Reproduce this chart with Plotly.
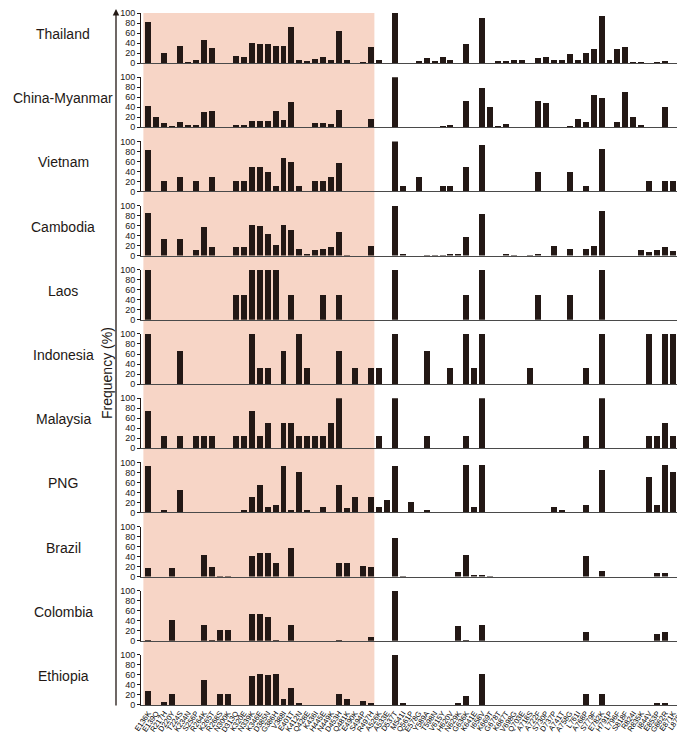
import plotly.graph_objects as go
from plotly.subplots import make_subplots

categories = [
    "E136K", "E139Q", "R217H", "D220Y", "T224S", "K234N", "S256P", "R264K", "K265T", "R268S",
    "N300K", "D313Q", "K320E", "N339K", "K346E", "D385N", "G386H", "V388I", "E401T", "K412N",
    "Q428E", "K436I", "H445E", "N449K", "D453H", "Q481K", "E490K", "S494P", "R497H", "A526K",
    "A533E", "D537T", "M541I", "Q561P", "E578G", "Y589A", "T598N", "V615Y", "H620V", "N629K",
    "G636K", "K641E", "I658V", "K669T", "G678T", "K687T", "V698G", "Q703E", "A718S", "A722F",
    "S730P", "D737P", "A741T", "A758G", "L761I", "A768P", "S779F", "E782K", "H791P", "L796F",
    "S818F", "R824I", "R835K", "I844V", "E853P", "G862R", "E871K", "L875F",
]

countries = ["Thailand", "China-Myanmar", "Vietnam", "Cambodia", "Laos", "Indonesia",
             "Malaysia", "PNG", "Brazil", "Colombia", "Ethiopia"]

thailand = [
    83, 0, 21, 0, 35, 3, 7, 46, 31, 0,
    0, 15, 12, 41, 38, 39, 35, 34, 73, 7,
    4, 8, 12, 6, 64, 6, 0, 2, 32, 6,
    0, 100, 0, 0, 5, 10, 5, 12, 7, 0,
    39, 0, 90, 0, 4, 5, 6, 6, 0, 11,
    12, 6, 6, 19, 7, 21, 28, 95, 7, 28,
    32, 2, 2, 0, 3, 4, 0, 1]

china_myanmar = [
    42, 20, 9, 3, 10, 5, 5, 31, 33, 0,
    0, 5, 4, 13, 13, 13, 33, 15, 51, 0,
    0, 9, 9, 6, 35, 0, 0, 0, 17, 0,
    0, 100, 0, 0, 0, 0, 0, 3, 5, 0,
    52, 0, 78, 41, 3, 7, 0, 0, 0, 52,
    49, 0, 0, 3, 17, 10, 64, 59, 0, 10,
    71, 20, 5, 0, 0, 41, 0, 0]

vietnam = [
    83, 0, 20, 0, 28, 0, 20, 0, 28, 0,
    0, 20, 20, 48, 48, 38, 10, 66, 58, 10,
    0, 20, 20, 28, 56, 0, 0, 0, 0, 0,
    0, 100, 10, 0, 28, 0, 0, 10, 10, 0,
    48, 0, 92, 0, 0, 0, 0, 0, 0, 38,
    0, 0, 0, 38, 0, 10, 0, 85, 0, 0,
    0, 0, 0, 20, 0, 20, 20, 20]

cambodia = [
    87, 0, 35, 0, 35, 0, 12, 58, 18, 0,
    0, 18, 18, 63, 60, 45, 22, 63, 52, 15,
    5, 12, 15, 18, 48, 3, 0, 0, 20, 0,
    0, 100, 5, 0, 0, 3, 3, 3, 5, 5,
    38, 0, 85, 0, 0, 5, 3, 0, 3, 5,
    0, 20, 0, 15, 0, 15, 20, 90, 0, 0,
    0, 0, 12, 8, 12, 18, 10, 18]

laos = [
    100, 0, 0, 0, 0, 0, 0, 0, 0, 0,
    0, 50, 50, 100, 100, 100, 100, 0, 50, 0,
    0, 0, 50, 0, 50, 0, 0, 0, 0, 0,
    0, 100, 0, 0, 0, 0, 0, 0, 0, 0,
    50, 0, 100, 0, 0, 0, 0, 0, 0, 50,
    0, 0, 0, 50, 0, 0, 0, 100, 0, 0,
    0, 0, 0, 0, 0, 0, 0, 0]

indonesia = [
    100, 0, 0, 0, 67, 0, 0, 0, 0, 0,
    0, 0, 0, 100, 33, 33, 0, 67, 0, 100,
    33, 0, 0, 0, 67, 0, 33, 0, 33, 33,
    0, 100, 0, 0, 0, 67, 0, 0, 33, 0,
    100, 33, 100, 0, 0, 0, 0, 0, 33, 0,
    0, 0, 0, 0, 0, 33, 0, 100, 0, 0,
    0, 0, 0, 100, 0, 100, 100, 100]

malaysia = [
    75, 0, 25, 0, 25, 0, 25, 25, 25, 0,
    0, 25, 25, 75, 25, 50, 0, 50, 50, 25,
    25, 25, 25, 50, 100, 0, 0, 0, 0, 25,
    0, 100, 0, 0, 0, 25, 0, 0, 0, 0,
    25, 0, 100, 0, 0, 0, 0, 0, 0, 0,
    0, 0, 0, 0, 0, 25, 0, 100, 0, 0,
    0, 0, 0, 25, 25, 50, 25, 25]

png = [
    92, 0, 5, 0, 45, 0, 0, 0, 0, 0,
    0, 0, 5, 30, 55, 10, 15, 92, 5, 80,
    5, 0, 10, 0, 55, 8, 30, 0, 30, 10,
    25, 92, 0, 20, 0, 5, 0, 0, 0, 0,
    95, 10, 95, 0, 0, 0, 0, 0, 0, 0,
    0, 10, 5, 0, 0, 15, 0, 85, 0, 0,
    0, 0, 0, 70, 15, 95, 80, 95]

brazil = [
    18, 0, 0, 18, 0, 0, 0, 45, 20, 3,
    3, 0, 0, 42, 48, 48, 28, 0, 58, 0,
    0, 0, 0, 0, 28, 28, 0, 22, 20, 0,
    0, 78, 3, 0, 0, 0, 0, 0, 0, 10,
    45, 5, 5, 3, 0, 0, 0, 0, 0, 0,
    0, 0, 0, 0, 0, 42, 0, 12, 0, 0,
    0, 0, 0, 0, 8, 8, 0, 0]

colombia = [
    3, 0, 0, 43, 0, 0, 0, 33, 3, 22,
    22, 0, 0, 55, 55, 48, 3, 0, 32, 0,
    0, 0, 0, 0, 3, 0, 0, 0, 8, 0,
    0, 100, 0, 0, 0, 0, 0, 0, 0, 30,
    3, 0, 32, 0, 0, 0, 0, 0, 0, 0,
    0, 0, 0, 0, 0, 18, 0, 0, 0, 0,
    0, 0, 0, 0, 15, 18, 0, 0]

ethiopia = [
    28, 0, 6, 22, 0, 0, 0, 50, 0, 22,
    22, 0, 0, 58, 62, 60, 62, 12, 35, 5,
    0, 0, 0, 0, 22, 12, 0, 8, 5, 0,
    0, 100, 5, 0, 0, 0, 0, 0, 0, 5,
    18, 0, 62, 0, 0, 0, 0, 0, 0, 0,
    0, 0, 0, 0, 0, 22, 0, 22, 0, 0,
    0, 0, 0, 0, 5, 5, 0, 5]

series = [thailand, china_myanmar, vietnam, cambodia, laos, indonesia,
          malaysia, png, brazil, colombia, ethiopia]

y_ticks = [0, 20, 40, 60, 80, 100]
shaded_first, shaded_last = 0, 28

INK = "#231815"
FONT = "Liberation Sans, Arial, sans-serif"
n = len(countries)

fig = make_subplots(rows=n, cols=1, vertical_spacing=0.0205)
xs = list(range(len(categories)))
for i, vals in enumerate(series):
    fig.add_trace(go.Bar(x=xs, y=vals, marker=dict(color=INK, line=dict(width=0)),
                         width=0.75, showlegend=False, hoverinfo="x+y"),
                  row=i + 1, col=1)

xr = [-0.92, len(categories) + 0.5]
for i in range(n):
    fig.update_xaxes(row=i + 1, col=1, range=xr, showline=True, linecolor="#4a4a4a",
                     linewidth=1, showgrid=False, zeroline=False, ticks="",
                     automargin=False,
                     tickvals=xs, ticktext=categories, showticklabels=(i == n - 1),
                     tickangle=-55, tickfont=dict(size=7.5, color="#000000", family=FONT))
    fig.update_yaxes(row=i + 1, col=1, range=[0, 100], tickvals=y_ticks,
                     ticks="outside", ticklen=3, tickwidth=1, tickcolor=INK,
                     automargin=False,
                     showline=True, linecolor=INK, linewidth=1, showgrid=False,
                     zeroline=False, tickfont=dict(size=9, color=INK, family=FONT))

fig.add_shape(type="rect", xref="x", yref="paper",
              x0=shaded_first - 0.62, x1=shaded_last + 0.43, y0=0, y1=1,
              fillcolor="#F7D5C6", line=dict(width=0), layer="below")

W, H = 685, 736
ML, MR, MT, MB = 133, 0, 5, 39
pw, ph = W - ML - MR, H - MT - MB


def px_to_paper_x(px):
    return (px - ML) / pw


def px_to_paper_y(py):
    return 1 - (py - MT) / ph


for i, name in enumerate(countries):
    dom = fig.layout[f"yaxis{'' if i == 0 else i + 1}"].domain
    fig.add_annotation(text=name, xref="paper", yref="paper",
                       x=px_to_paper_x(55), y=dom[0] + 0.58 * (dom[1] - dom[0]),
                       xanchor="center", yanchor="middle", showarrow=False,
                       font=dict(size=14, color=INK, family=FONT))

fig.add_annotation(text="Frequency (%)", xref="paper", yref="paper",
                   x=px_to_paper_x(99), y=px_to_paper_y(365), textangle=-90,
                   xanchor="center", yanchor="middle", showarrow=False,
                   font=dict(size=14, color=INK, family=FONT))

fig.add_annotation(text="", xref="paper", yref="paper",
                   x=px_to_paper_x(108), y=px_to_paper_y(1), ax=0, ay=698,
                   showarrow=True, arrowhead=2, arrowsize=1, arrowwidth=1.3,
                   arrowcolor=INK)

fig.update_layout(width=W, height=H, margin=dict(l=ML, r=MR, t=MT, b=MB, autoexpand=False),
                  plot_bgcolor="rgba(0,0,0,0)", paper_bgcolor="white",
                  bargap=0, showlegend=False, font=dict(family=FONT, color=INK))

fig.write_html("out.html")
